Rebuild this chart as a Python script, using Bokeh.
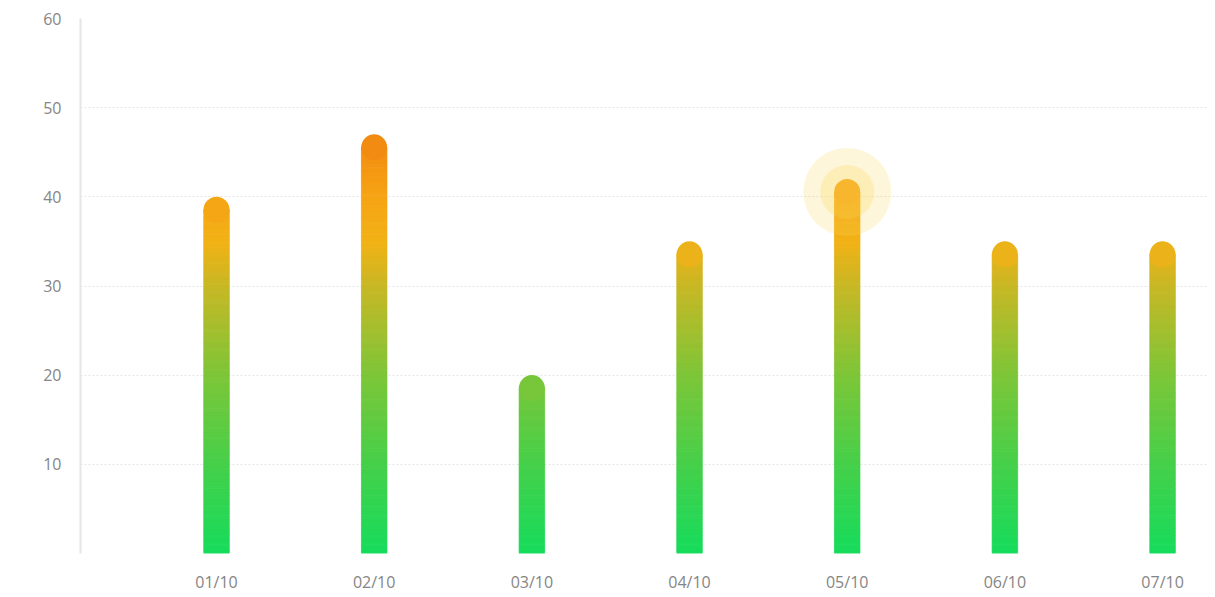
import numpy as np
from bokeh.plotting import figure
from bokeh.models import Range1d, FixedTicker, ColumnDataSource
from bokeh.embed import file_html
from bokeh.resources import INLINE

# ---- data ----
categories = ["01/10", "02/10", "03/10", "04/10", "05/10", "06/10", "07/10"]
values = [40, 47, 20, 35, 42, 35, 35]
highlight_index = 4
y_ticks = [10, 20, 30, 40, 50, 60]

# gradient stops in data units (absolute y)
grad_pos = [0, 10, 20, 30, 35, 40, 47]
grad_rgb = [(22, 220, 92), (70, 208, 74), (125, 198, 56), (200, 184, 37),
            (242, 178, 22), (246, 164, 20), (242, 136, 18)]

def color_at(y):
    arr = np.array(grad_rgb, dtype=float)
    r = np.interp(y, grad_pos, arr[:, 0])
    g = np.interp(y, grad_pos, arr[:, 1])
    b = np.interp(y, grad_pos, arr[:, 2])
    return "#%02x%02x%02x" % (int(round(r)), int(round(g)), int(round(b)))

W, H = 1207, 595
BL, BT, BB = 80, 18, 40
p = figure(width=W, height=H, output_backend="svg", toolbar_location=None,
           x_range=Range1d(-0.8626, 6.285), y_range=Range1d(0, 60),
           min_border_left=BL, min_border_right=0, min_border_top=BT, min_border_bottom=BB)
p.outline_line_color = None
p.background_fill_color = "white"
p.border_fill_color = "white"

frame_h = H - BT - BB
upp = 60.0 / frame_h
bar_px = 26
r_data = (bar_px / 2) * upp
bar_w = 0.162
step = 0.25

lefts, rights, bottoms, tops, cols = [], [], [], [], []
cap_x, cap_y, cap_c = [], [], []
for i, v in enumerate(values):
    body_top = v - r_data
    edges = np.arange(0, body_top, step)
    for e0 in edges:
        e1 = min(e0 + step + 0.05, body_top)
        lefts.append(i - bar_w / 2)
        rights.append(i + bar_w / 2)
        bottoms.append(e0)
        tops.append(e1)
        cols.append(color_at(e0 + step / 2))
    cap_x.append(i)
    cap_y.append(body_top)
    cap_c.append(color_at(body_top + r_data * 0.4))

src = ColumnDataSource(dict(left=lefts, right=rights, bottom=bottoms, top=tops, color=cols))
p.quad(left="left", right="right", bottom="bottom", top="top", source=src,
       fill_color="color", line_color="color", line_width=0.6)
p.scatter(x=cap_x, y=cap_y, size=bar_px, marker="circle", fill_color=cap_c, line_color=None)

# highlight halo
hx = [highlight_index]
hy = [values[highlight_index] - r_data]
p.scatter(x=hx, y=hy, size=88, marker="circle", fill_color="#fcd655", fill_alpha=0.22, line_color=None)
p.scatter(x=hx, y=hy, size=54, marker="circle", fill_color="#fcd655", fill_alpha=0.25, line_color=None)

FONT = "Open Sans"
# axes
p.xaxis.ticker = FixedTicker(ticks=list(range(len(categories))))
p.xaxis.major_label_overrides = {i: c for i, c in enumerate(categories)}
p.xaxis.axis_line_color = None
p.xaxis.major_tick_line_color = None
p.xaxis.major_tick_out = 0
p.xaxis.major_tick_in = 0
p.xaxis.minor_tick_line_color = None
p.xaxis.major_label_standoff = 17
p.xaxis.major_label_text_font = FONT
p.xaxis.major_label_text_font_size = "16px"
p.xaxis.major_label_text_color = "#858585"

p.yaxis.ticker = FixedTicker(ticks=y_ticks)
p.yaxis.axis_line_color = "#e6e6e6"
p.yaxis.axis_line_width = 2
p.yaxis.major_tick_line_color = None
p.yaxis.major_tick_out = 0
p.yaxis.major_tick_in = 0
p.yaxis.minor_tick_line_color = None
p.yaxis.major_label_standoff = 19
p.yaxis.major_label_text_font = FONT
p.yaxis.major_label_text_font_size = "16px"
p.yaxis.major_label_text_color = "#858585"

p.xgrid.grid_line_color = None
p.ygrid.ticker = FixedTicker(ticks=y_ticks)
p.ygrid.grid_line_color = "#e6e6e6"
p.ygrid.grid_line_dash = "2 2"
p.ygrid.grid_line_width = 1

open("out.html", "w").write(file_html(p, INLINE))
